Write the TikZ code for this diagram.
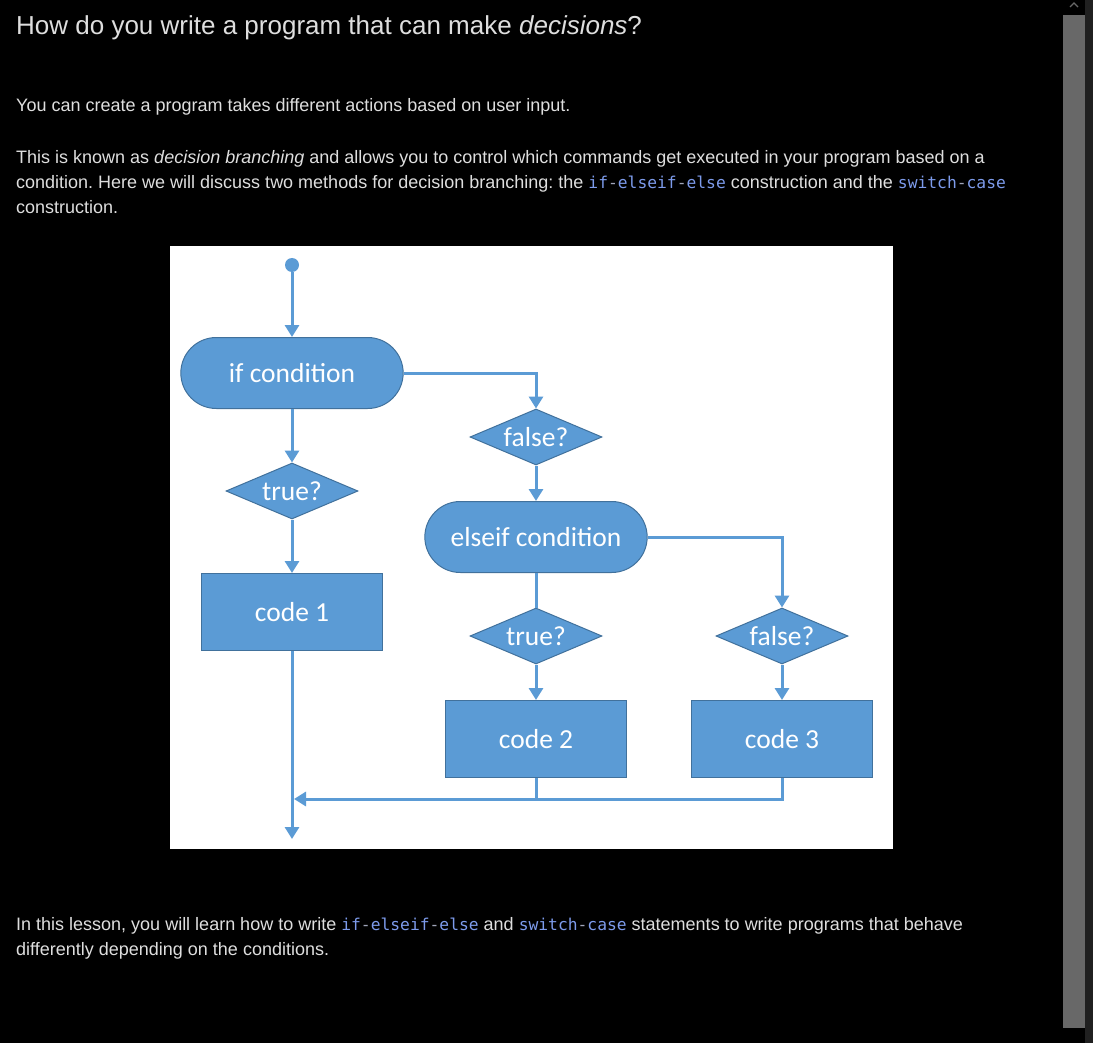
\documentclass[tikz,border=0pt]{standalone}
\usepackage{fontspec}
\setmainfont{Liberation Sans}
\setmonofont{DejaVu Sans Mono}
\newfontfamily\flowfont{Carlito}
\usetikzlibrary{shapes.geometric,shapes.misc,arrows.meta}

\definecolor{flowblue}{RGB}{91,155,213}
\definecolor{edgeblue}{RGB}{65,113,156}
\definecolor{textgray}{RGB}{222,222,222}
\definecolor{codeblue}{RGB}{125,155,235}
\definecolor{dashgray}{RGB}{160,165,185}
\definecolor{thumbgray}{RGB}{104,104,104}
\definecolor{trackgray}{RGB}{32,32,32}

\newcommand{\kw}[1]{\textcolor{codeblue}{\ttfamily\fontsize{16.3}{20}\selectfont #1}}
\newcommand{\hy}{\textcolor{dashgray}{\ttfamily\fontsize{16.3}{20}\selectfont -}}
\frenchspacing

\begin{document}
\begin{tikzpicture}[x=1pt, y=-1pt,
    flow/.style={draw=flowblue, line width=3pt, -{Triangle[width=14pt,length=12pt]}},
    link/.style={draw=flowblue, line width=3pt},
    term/.style={rounded rectangle, draw=edgeblue, line width=1pt, fill=flowblue, text=white,
        minimum width=229pt, minimum height=71pt, font=\flowfont\fontsize{27.5}{32}\selectfont},
    test/.style={diamond, aspect=2.36, draw=edgeblue, line width=1pt, fill=flowblue, text=white, inner sep=0pt,
        minimum width=132pt, minimum height=56pt, font=\flowfont\fontsize{27.5}{32}\selectfont},
    block/.style={rectangle, draw=edgeblue, line width=1pt, fill=flowblue, text=white,
        minimum width=181pt, minimum height=77pt, font=\flowfont\fontsize{27.5}{32}\selectfont},
    txt/.style={anchor=base west, inner sep=0pt, text=textgray, font=\fontsize{18}{22}\selectfont}]

    % Fondo
    \fill[black] (0,0) rectangle (1093,1043);
    \useasboundingbox (0,0) rectangle (1093,1043);
    \fill[trackgray] (1085,0) rectangle (1093,1043);
    \fill[thumbgray] (1063,15) rectangle (1085,1028);
    \draw[thumbgray, line width=1.2pt] (1070,7) -- (1074,3) -- (1078,7);

    % Textos
    \node[txt, font=\fontsize{26}{31}\selectfont] (title) at (16,35) {How do you write a program that can make \textit{decisions}?};
    \node[txt] (intro) at (16,112) {You can create a program takes different actions based on user input.};
    \node[txt] (para1) at (16,164) {This is known as \textit{decision branching} and allows you to control which commands get executed in your program based on a};
    \node[txt] (para2) at (16,189) {condition. Here we will discuss two methods for decision branching: the \kw{if}\hy\kw{elseif}\hy\kw{else} construction and the \kw{switch}\hy\kw{case}};
    \node[txt] (para3) at (16,214) {construction.};
    \node[txt] (outro1) at (16,930) {In this lesson, you will learn how to write \kw{if}\hy\kw{elseif}\hy\kw{else} and \kw{switch}\hy\kw{case} statements to write programs that behave};
    \node[txt] (outro2) at (16,955) {differently depending on the conditions.};

    % Panel
    \fill[white] (170,246) rectangle (893,849);

    % Nodos
    \node[circle, fill=flowblue, inner sep=0pt, minimum size=14pt] (start) at (292,265) {};
    \node[term] (ifc) at (292,373) {if condition};
    \node[test] (false1) at (536,437) {false?};
    \node[test] (true1) at (292,491) {true?};
    \node[term] (elif) at (536,537) {elseif condition};
    \node[block] (code1) at (292,612) {code 1};
    \node[test] (true2) at (536,636) {true?};
    \node[test] (false2) at (782,636) {false?};
    \node[block] (code2) at (536,739) {code 2};
    \node[block] (code3) at (782,739) {code 3};
    \coordinate (merge) at (294,799);
    \coordinate (exit) at (292,839);

    % Aristas
    \draw[flow] (start) -- (ifc.north);
    \draw[flow] (ifc.south) -- (true1.north);
    \draw[flow] (ifc.east) -| (false1.north);
    \draw[flow] (false1.south) -- (elif.north);
    \draw[flow] (true1.south) -- (code1.north);
    \draw[link] (elif.south) -- (true2.north);
    \draw[flow] (elif.east) -| (false2.north);
    \draw[flow] (true2.south) -- (code2.north);
    \draw[flow] (false2.south) -- (code3.north);
    \draw[flow] (code1.south) -- (exit);
    \draw[flow] (code3.south) |- (merge);
    \draw[link] (code2.south) -- (code2.south |- merge);

\end{tikzpicture}
\end{document}
